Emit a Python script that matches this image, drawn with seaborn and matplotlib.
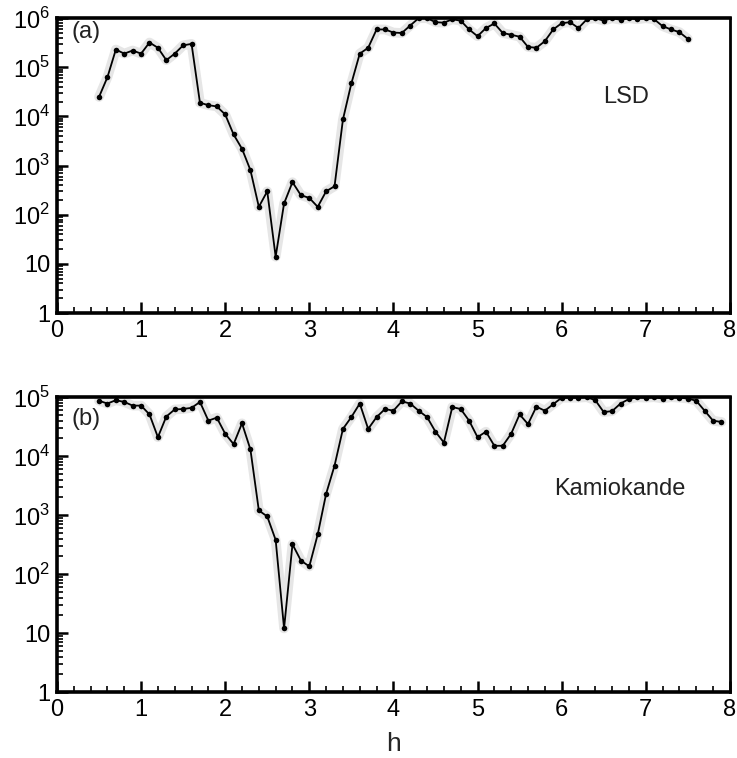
import numpy as np
import pandas as pd
import matplotlib
matplotlib.use("Agg")
import matplotlib.pyplot as plt
from matplotlib.ticker import FixedLocator, FixedFormatter, LogLocator, NullFormatter, MultipleLocator
import seaborn as sns

# --- donnees ---
h_lsd = [0.5, 0.6, 0.7, 0.8, 0.9, 1.0, 1.1, 1.2, 1.3, 1.4, 1.5, 1.6, 1.7, 1.8, 1.9,
         2.0, 2.1, 2.2, 2.3, 2.4, 2.5, 2.6, 2.7, 2.8, 2.9, 3.0, 3.1, 3.2, 3.3, 3.4,
         3.5, 3.6, 3.7, 3.8, 3.9, 4.0, 4.1, 4.2, 4.3, 4.4, 4.5, 4.6, 4.7, 4.8, 4.9,
         5.0, 5.1, 5.2, 5.3, 5.4, 5.5, 5.6, 5.7, 5.8, 5.9, 6.0, 6.1, 6.2, 6.3, 6.4,
         6.5, 6.6, 6.7, 6.8, 6.9, 7.0, 7.1, 7.2, 7.3, 7.4, 7.5]
lsd = [2.5e4, 6.3e4, 2.3e5, 1.9e5, 2.2e5, 1.9e5, 3.2e5, 2.5e5, 1.4e5, 1.9e5, 2.8e5, 3.0e5,
       1.9e4, 1.7e4, 1.6e4, 1.1e4, 4.3e3, 2.2e3, 8.1e2, 1.45e2, 3.0e2, 14, 1.7e2, 4.6e2,
       2.5e2, 2.2e2, 1.45e2, 3.0e2, 3.8e2, 8.7e3, 4.7e4, 1.9e5, 2.5e5, 5.9e5, 5.9e5,
       5.1e5, 5.0e5, 7.1e5, 1.0e6, 1.0e6, 8.3e5, 8.1e5, 9.5e5, 8.9e5, 5.9e5, 4.3e5,
       6.3e5, 7.8e5, 5.0e5, 4.6e5, 4.2e5, 2.6e5, 2.5e5, 3.4e5, 5.9e5, 7.9e5, 8.3e5,
       6.3e5, 9.5e5, 1.0e6, 8.9e5, 1.0e6, 9.3e5, 1.0e6, 9.5e5, 1.0e6, 9.5e5, 6.9e5,
       5.9e5, 5.2e5, 3.8e5]

h_kam = [0.5, 0.6, 0.7, 0.8, 0.9, 1.0, 1.1, 1.2, 1.3, 1.4, 1.5, 1.6, 1.7, 1.8, 1.9,
         2.0, 2.1, 2.2, 2.3, 2.4, 2.5, 2.6, 2.7, 2.8, 2.9, 3.0, 3.1, 3.2, 3.3, 3.4,
         3.5, 3.6, 3.7, 3.8, 3.9, 4.0, 4.1, 4.2, 4.3, 4.4, 4.5, 4.6, 4.7, 4.8, 4.9,
         5.0, 5.1, 5.2, 5.3, 5.4, 5.5, 5.6, 5.7, 5.8, 5.9, 6.0, 6.1, 6.2, 6.3, 6.4,
         6.5, 6.6, 6.7, 6.8, 6.9, 7.0, 7.1, 7.2, 7.3, 7.4, 7.5, 7.6, 7.7, 7.8, 7.9]
kam = [8.7e4, 7.8e4, 8.9e4, 8.3e4, 7.2e4, 7.2e4, 5.1e4, 2.1e4, 4.7e4, 6.2e4, 6.3e4, 6.6e4,
       8.3e4, 4.0e4, 4.5e4, 2.4e4, 1.6e4, 3.6e4, 1.3e4, 1.2e3, 9.5e2, 3.8e2, 12, 3.2e2,
       1.7e2, 1.35e2, 4.7e2, 2.3e3, 6.9e3, 2.9e4, 4.6e4, 7.8e4, 2.9e4, 4.6e4, 6.3e4,
       5.9e4, 8.5e4, 7.8e4, 5.9e4, 4.6e4, 2.6e4, 1.7e4, 6.8e4, 6.3e4, 4.0e4, 2.1e4,
       2.6e4, 1.5e4, 1.5e4, 2.4e4, 5.1e4, 3.5e4, 6.9e4, 5.9e4, 7.6e4, 9.8e4, 9.8e4,
       9.8e4, 1.0e5, 8.9e4, 5.6e4, 5.8e4, 7.8e4, 9.3e4, 1.0e5, 9.8e4, 1.0e5, 9.5e4,
       1.0e5, 9.8e4, 9.5e4, 8.7e4, 5.9e4, 4.0e4, 3.8e4]

labels_a = ["1", "10", r"$10^2$", r"$10^3$", r"$10^4$", r"$10^5$", r"$10^6$"]
labels_b = ["1", "10", r"$10^2$", r"$10^3$", r"$10^4$", r"$10^5$"]

sns.set_style("ticks")
plt.rcParams["font.family"] = ["Liberation Sans", "DejaVu Sans"]
plt.rcParams["mathtext.fontset"] = "custom"
plt.rcParams["mathtext.rm"] = "Liberation Sans"

fig = plt.figure(figsize=(7.37, 7.58), dpi=100)
ax_a = fig.add_axes([0.0773, 0.587, 0.913, 0.389])
ax_b = fig.add_axes([0.0773, 0.087, 0.913, 0.389])

panels = [
    (ax_a, h_lsd, lsd, labels_a, "(a)", 0.953, "LSD", 0.846, 0.734),
    (ax_b, h_kam, kam, labels_b, "(b)", 0.925, "Kamiokande", 0.836, 0.688),
]

for ax, h, vals, labs, tag, tag_y, name, nx, ny in panels:
    df = pd.DataFrame({"h": h, "v": vals})
    # halo gris (effet scan)
    sns.lineplot(data=df, x="h", y="v", ax=ax, color="#e6e6e6", lw=7, zorder=1)
    sns.lineplot(data=df, x="h", y="v", ax=ax, color="black", lw=1.3,
                 marker="o", markersize=4, markeredgewidth=0, zorder=3)
    ax.set_yscale("log")
    ax.set_xlim(0, 8)
    ax.set_ylim(1, 10 ** (len(labs) - 1))
    ax.yaxis.set_major_locator(FixedLocator([10 ** k for k in range(len(labs))]))
    ax.yaxis.set_major_formatter(FixedFormatter(labs))
    ax.yaxis.set_minor_locator(LogLocator(base=10, subs=np.arange(2, 10)))
    ax.yaxis.set_minor_formatter(NullFormatter())
    ax.xaxis.set_major_locator(MultipleLocator(1))
    ax.xaxis.set_minor_locator(MultipleLocator(0.2))
    ax.tick_params(axis="both", which="major", direction="in", length=8, width=1.8,
                   labelsize=17, top=False, right=False, colors="black")
    ax.tick_params(axis="both", which="minor", direction="in", length=4, width=1.2,
                   top=False, right=False, colors="black")
    ax.tick_params(axis="x", pad=5)
    ax.tick_params(axis="y", pad=5)
    for s in ["left", "bottom", "top"]:
        ax.spines[s].set_linewidth(2.6)
        ax.spines[s].set_color("black")
    ax.spines["right"].set_linewidth(2.0)
    ax.spines["right"].set_color("black")
    ax.set_xlabel("")
    ax.set_ylabel("")
    ax.text(0.022, tag_y, tag, transform=ax.transAxes, fontsize=17, va="center", ha="left",
            color="#222222")
    ax.text(nx, ny, name, transform=ax.transAxes, fontsize=17, va="center", ha="center",
            color="#222222")

ax_b.set_xlabel("h", fontsize=19, labelpad=8)

fig.savefig("out.png", dpi=100)
